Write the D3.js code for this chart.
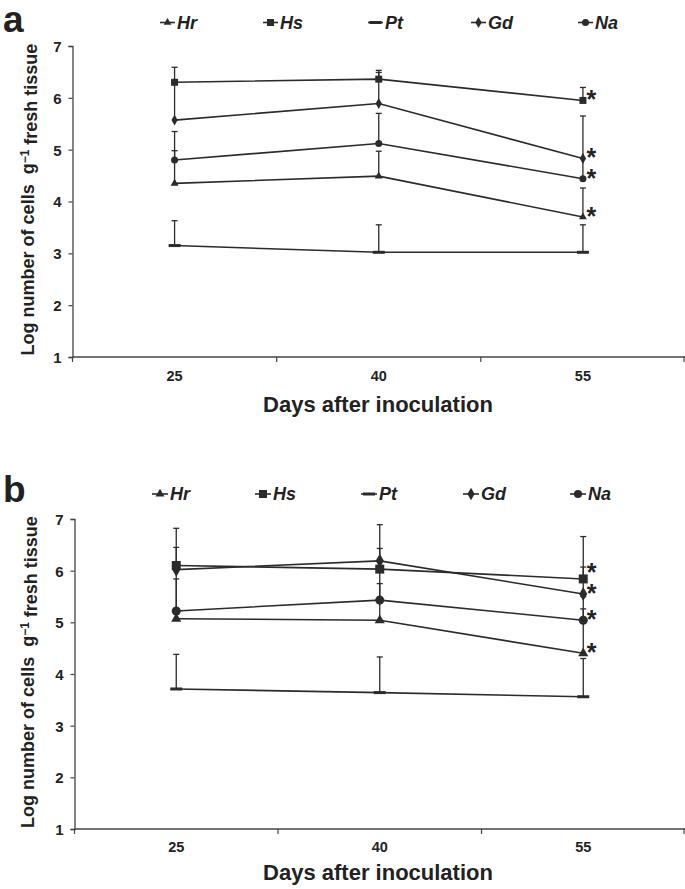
<!DOCTYPE html>
<html>
<head>
<meta charset="utf-8">
<script src="https://cdn.jsdelivr.net/npm/d3@7"></script>
<style>
  html, body { margin: 0; padding: 0; background: #fff; }
  svg { display: block; }
  text { font-family: "Liberation Sans", Arial, sans-serif; fill: #222; }
</style>
</head>
<body>
<svg id="chart" width="685" height="889"></svg>
<script>
// ---------- data ----------
const days = ["25", "40", "55"];
const seriesNames = ["Hr", "Hs", "Pt", "Gd", "Na"];
const yTicks = [1, 2, 3, 4, 5, 6, 7];
const significant = ["Hr", "Hs", "Gd", "Na"]; // marked * at day 55

// panel a : mean values and upper error amounts
const aHr = [4.35, 4.49, 3.70];   const aHrErr = [0.63, 0.48, 0.56];
const aHs = [6.30, 6.36, 5.95];   const aHsErr = [0.29, 0.17, 0.25];
const aPt = [3.15, 3.02, 3.02];   const aPtErr = [0.48, 0.53, 0.53];
const aGd = [5.57, 5.89, 4.83];   const aGdErr = [0.73, 0.60, 0.82];
const aNa = [4.80, 5.12, 4.44];   const aNaErr = [0.55, 0.58, 0.39];

// panel b
const bHr = [5.07, 5.04, 4.40];   const bHrErr = [0.95, 1.00, 1.10];
const bHs = [6.10, 6.03, 5.84];   const bHsErr = [0.72, 0.40, 0.23];
const bPt = [3.71, 3.64, 3.56];   const bPtErr = [0.67, 0.69, 0.74];
const bGd = [6.02, 6.19, 5.55];   const bGdErr = [0.43, 0.70, 1.11];
const bNa = [5.22, 5.43, 5.04];   const bNaErr = [0.62, 0.32, 0.22];

// ---------- drawing ----------
const svg = d3.select("#chart");
const INK = "#2b2b2b";

function markerPath(name, size) {
  const s = size;
  if (name === "Hr") return d3.symbol(d3.symbolTriangle, s * s * 0.55)();
  if (name === "Hs") return d3.symbol(d3.symbolSquare, s * s)();
  if (name === "Gd") return d3.symbol(d3.symbolDiamond, s * s * 0.7)();
  if (name === "Na") return d3.symbol(d3.symbolCircle, s * s * 0.8)();
  return null;
}

function drawMarker(g, name, x, y, size) {
  if (name === "Pt") {
    g.append("rect").attr("x", x - 6).attr("y", y - 1.5).attr("width", 12).attr("height", 3)
      .attr("fill", INK);
  } else {
    g.append("path").attr("d", markerPath(name, size))
      .attr("transform", `translate(${x},${y})`).attr("fill", INK);
  }
}

function drawPanel(cfg) {
  const g = svg.append("g");
  const x = d3.scaleBand().domain(days).range([cfg.left, 685]);
  const y = d3.scaleLinear().domain([1, 7]).range([cfg.bottom, cfg.top]);
  const cxOf = i => x(days[i]) + x.bandwidth() / 2;

  // axes
  const yAxis = d3.axisLeft(y).tickValues(yTicks).tickSize(4).tickFormat(d3.format("d"));
  const ya = g.append("g").attr("transform", `translate(${cfg.left},0)`).call(yAxis);
  ya.select(".domain").attr("stroke", "#444").attr("stroke-width", 1.3);
  ya.selectAll(".tick line").attr("stroke", "#444").attr("stroke-width", 1.2);
  ya.selectAll(".tick text").attr("x", -11).attr("dy", "0.36em")
    .style("font-size", "15px").style("font-weight", "bold").attr("fill", "#222")
    .style("font-family", '"Liberation Sans", Arial, sans-serif');

  const xa = g.append("g").attr("transform", `translate(0,${cfg.bottom})`);
  xa.append("line").attr("x1", cfg.left).attr("x2", 685).attr("y1", 0).attr("y2", 0)
    .attr("stroke", "#444").attr("stroke-width", 1.3);
  const bounds = [cfg.left].concat(days.map(d => x(d) + x.bandwidth()));
  xa.selectAll("line.tk").data(bounds).enter().append("line").attr("class", "tk")
    .attr("x1", d => Math.min(d, 684)).attr("x2", d => Math.min(d, 684))
    .attr("y1", 0).attr("y2", 5).attr("stroke", "#444").attr("stroke-width", 1.2);
  xa.selectAll("text").data(days).enter().append("text")
    .attr("x", d => x(d) + x.bandwidth() / 2).attr("y", cfg.tickBase - cfg.bottom)
    .attr("text-anchor", "middle").style("font-size", "14.5px").style("font-weight", "bold")
    .text(d => d);

  // axis titles
  g.append("text").attr("x", 378).attr("y", cfg.titleBase).attr("text-anchor", "middle")
    .style("font-size", "22px").style("font-weight", "bold").text("Days after inoculation");

  const yt = g.append("text")
    .attr("transform", `translate(34,${(cfg.top + cfg.bottom) / 2 - 2}) rotate(-90)`)
    .attr("text-anchor", "middle").style("font-size", "18px").style("font-weight", "bold");
  yt.append("tspan").text("Log number of cells\u00a0\u00a0g");
  yt.append("tspan").attr("dy", "-0.45em").style("font-size", "12px").text("\u22121");
  yt.append("tspan").attr("dy", "0.45em").text(" fresh tissue");

  // panel letter
  g.append("text").attr("x", 3).attr("y", cfg.letterBase).style("font-size", "37px")
    .style("font-weight", "bold").attr("fill", "#111").text(cfg.letter);

  // error bars
  const eb = g.append("g");
  cfg.series.forEach(s => {
    s.values.forEach((v, i) => {
      const cx = cxOf(i);
      const top = y(v + s.err[i]);
      eb.append("line").attr("x1", cx).attr("x2", cx).attr("y1", y(v)).attr("y2", top)
        .attr("stroke", INK).attr("stroke-width", 1.3);
      eb.append("line").attr("x1", cx - 3).attr("x2", cx + 3).attr("y1", top).attr("y2", top)
        .attr("stroke", INK).attr("stroke-width", 1.3);
    });
  });

  // lines
  const line = d3.line().x((d, i) => cxOf(i)).y(d => y(d));
  cfg.series.forEach(s => {
    g.append("path").datum(s.values).attr("d", line).attr("fill", "none")
      .attr("stroke", INK).attr("stroke-width", 1.6);
  });

  // markers
  cfg.series.forEach(s => {
    s.values.forEach((v, i) => drawMarker(g, s.name, cxOf(i), y(v), cfg.markerSize));
  });

  // significance asterisks at day 55 (stacked so they do not collide)
  const stars = cfg.series.filter(s => significant.includes(s.name))
    .map(s => ({ c: y(s.values[2]) - 6 }))
    .sort((a, b) => b.c - a.c);
  for (let k = 1; k < stars.length; k++) {
    if (stars[k].c > stars[k - 1].c - 21) stars[k].c = stars[k - 1].c - 21;
  }
  stars.forEach(st => {
    g.append("text").attr("x", cxOf(2) + 3.5).attr("y", st.c + 14)
      .style("font-size", "25px").style("font-weight", "bold").attr("fill", "#111").text("*");
  });

  // legend
  const lg = g.append("g");
  cfg.series.forEach((s, i) => {
    const lx = cfg.legendX[i];
    lg.append("line").attr("x1", lx).attr("x2", lx + cfg.legendLine).attr("y1", cfg.legendY)
      .attr("y2", cfg.legendY).attr("stroke", INK).attr("stroke-width", 1.6);
    drawMarker(lg, s.name, lx + cfg.legendLine / 2, cfg.legendY, cfg.legendMarker);
    lg.append("text").attr("x", lx + cfg.legendLine + 2).attr("y", cfg.legendY + 6)
      .style("font-size", "18px").style("font-weight", "bold").style("font-style", "italic")
      .text(s.name);
  });
}

const valuesA = [aHr, aHs, aPt, aGd, aNa];
const errA = [aHrErr, aHsErr, aPtErr, aGdErr, aNaErr];
const valuesB = [bHr, bHs, bPt, bGd, bNa];
const errB = [bHrErr, bHsErr, bPtErr, bGdErr, bNaErr];

drawPanel({
  letter: "a", letterBase: 32, left: 72.5, top: 46, bottom: 357,
  tickBase: 381, titleBase: 412,
  legendX: [160, 263, 368, 471, 578], legendY: 22.5, legendLine: 15, legendMarker: 7,
  markerSize: 7,
  series: seriesNames.map((n, i) => ({ name: n, values: valuesA[i], err: errA[i] }))
});

drawPanel({
  letter: "b", letterBase: 502, left: 74.5, top: 519, bottom: 829,
  tickBase: 852, titleBase: 880,
  legendX: [152, 255, 361, 463, 570], legendY: 494, legendLine: 16, legendMarker: 8,
  markerSize: 9,
  series: seriesNames.map((n, i) => ({ name: n, values: valuesB[i], err: errB[i] }))
});
</script>
</body>
</html>
